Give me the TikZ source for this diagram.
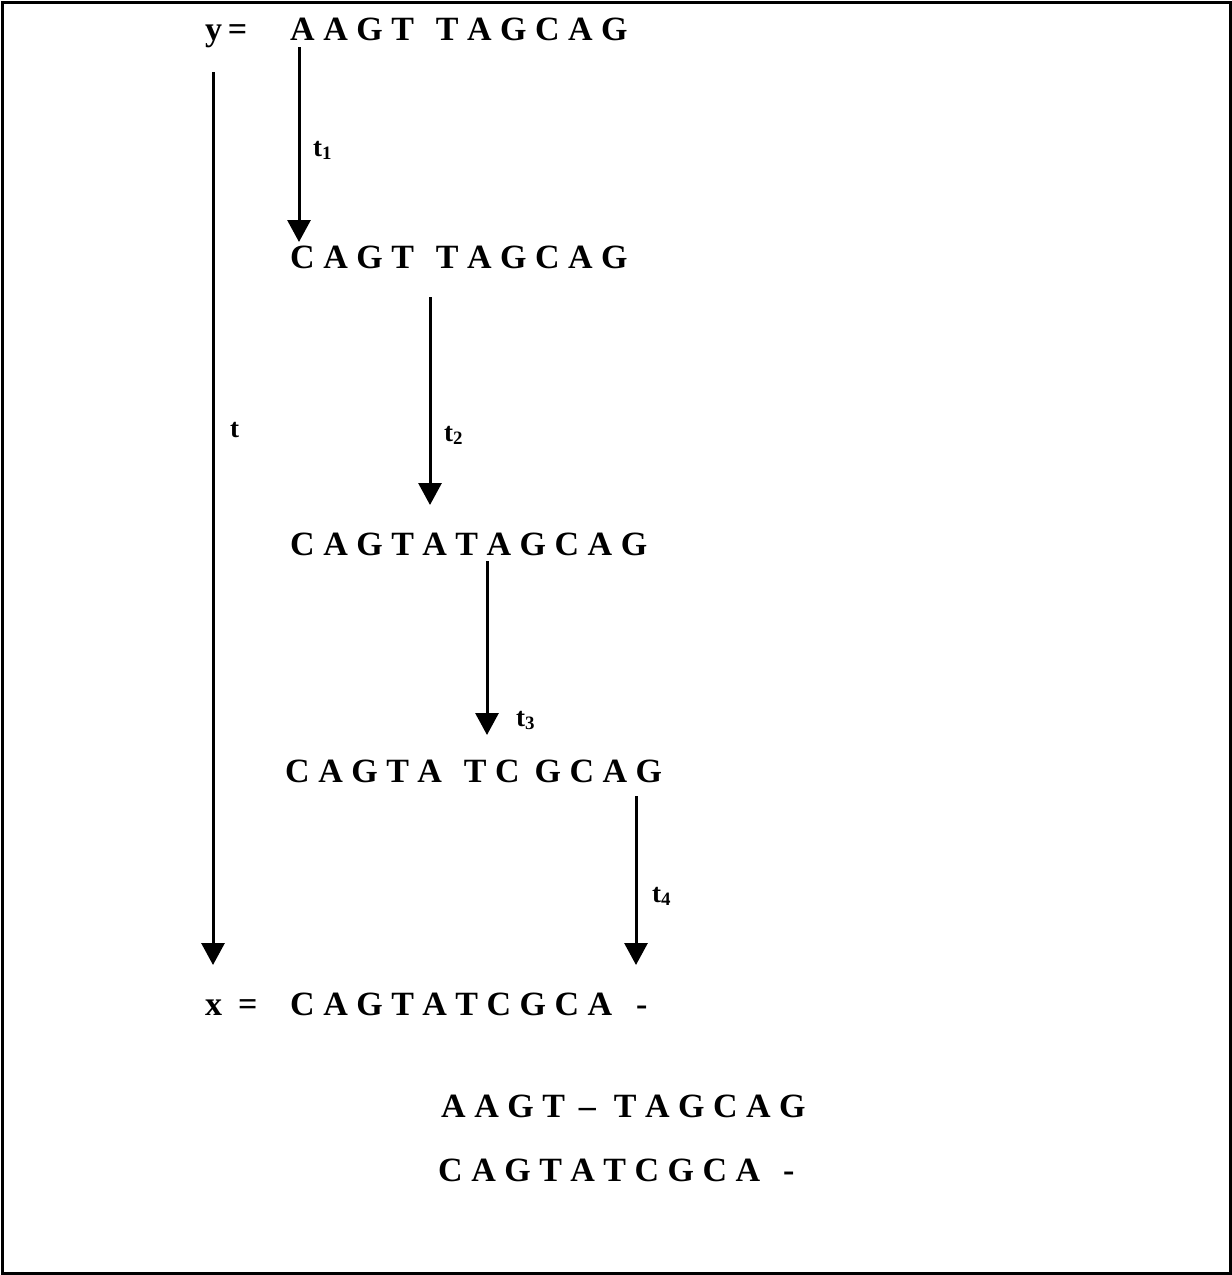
\documentclass[tikz,border=0pt]{standalone}
\usepackage{fontspec}
\setmainfont{Liberation Serif}
\usetikzlibrary{arrows.meta}
\newcommand{\gp}[1]{\hspace{#1pt}}
\begin{document}
\begin{tikzpicture}[x=1pt,y=-1pt,
  seq/.style={anchor=base west,inner sep=0pt,font=\fontsize{34}{40}\selectfont\bfseries},
  lbl/.style={anchor=base west,inner sep=0pt,font=\fontsize{27}{30}\selectfont\bfseries},
  mut/.style={line width=3pt,-{Triangle[width=23pt,length=22pt]}}]
  \useasboundingbox (0,0) rectangle (1232,1275);
  \draw[line width=3pt] (2,2) rectangle (1230,1273);

  % sequences, top to bottom
  \node[seq] (ylab) at (205,40) {y\,=};
  \node[seq] (r1) at (290,40) {A A G T\gp{22}T A G C A G};
  \node[seq] (r2) at (290,268) {C A G T\gp{22}T A G C A G};
  \node[seq] (r3) at (290,555) {C A G T A T A G C A G};
  \node[seq] (r4) at (285,782) {C A G T A\gp{22}T C\gp{15}G C A G};
  \node[seq] (xlab) at (205,1015) {x\gp{16}=};
  \node[seq] (r5) at (290,1015) {C A G T A T C G C A\gp{24}-};
  \node[seq] (a1) at (441,1117) {A A G T\gp{14}--\gp{18}T A G C A G};
  \node[seq] (a2) at (438,1181) {C A G T A T C G C A\gp{23}-};

  % end points of the transformation arrows
  \coordinate (ts) at (213,72);   \coordinate (te) at (213,965);
  \coordinate (t1s) at (299,47);  \coordinate (t1e) at (299,242);
  \coordinate (t2s) at (430,297); \coordinate (t2e) at (430,505);
  \coordinate (t3s) at (487,561); \coordinate (t3e) at (487,735);
  \coordinate (t4s) at (636,796); \coordinate (t4e) at (636,965);

  \draw[mut] (ts) -- (te);
  \draw[mut] (t1s) -- (t1e);
  \draw[mut] (t2s) -- (t2e);
  \draw[mut] (t3s) -- (t3e);
  \draw[mut] (t4s) -- (t4e);

  \node[lbl] (lt) at (230,437) {t};
  \node[lbl] (lt1) at (313,156) {t\textsubscript{1}};
  \node[lbl] (lt2) at (444,441) {t\textsubscript{2}};
  \node[lbl] (lt3) at (516,726) {t\textsubscript{3}};
  \node[lbl] (lt4) at (652,902) {t\textsubscript{4}};
\end{tikzpicture}
\end{document}
